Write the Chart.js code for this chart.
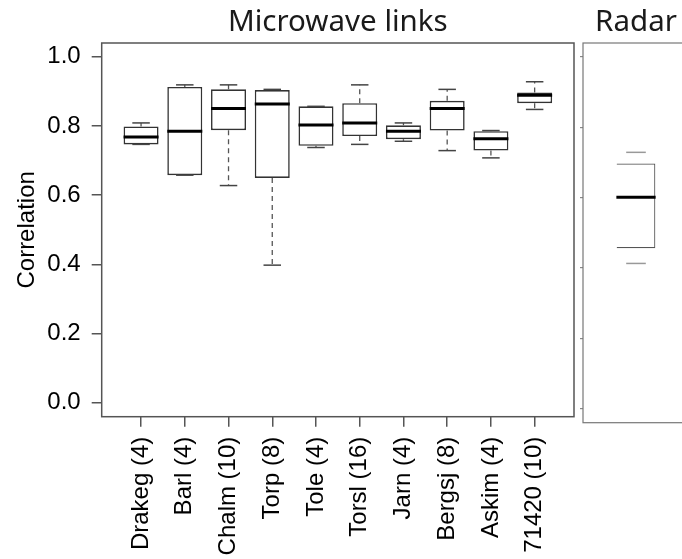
<!DOCTYPE html>
<html lang="en">
<head>
    <meta charset="UTF-8">
    <title>Correlation - Microwave links and Radar</title>
    <script src="https://cdn.jsdelivr.net/npm/chart.js"></script>
    <style>
        body { margin: 0; width: 682px; height: 559px; overflow: hidden; position: relative; background: #fff; }
        .panel { position: absolute; top: 0; }
    </style>
</head>
<body>
    <div class="panel" style="left:0; width:578px; height:559px;"><canvas id="mwChart" width="578" height="559"></canvas></div>
    <div class="panel" style="left:578px; width:115px; height:559px;"><canvas id="radarChart" width="115" height="559"></canvas></div>

    <script>
        // Microwave links, one box per site (number of links in brackets)
        const sites = ['Drakeg (4)', 'Barl (4)', 'Chalm (10)', 'Torp (8)', 'Tole (4)', 'Torsl (16)', 'Jarn (4)', 'Bergsj (8)', 'Askim (4)', '71420 (10)'];
        const mwLow    = [0.747, 0.658, 0.628, 0.398, 0.738, 0.747, 0.756, 0.729, 0.708, 0.848];
        const mwQ1     = [0.747, 0.658, 0.788, 0.650, 0.743, 0.771, 0.762, 0.787, 0.729, 0.866];
        const mwMedian = [0.768, 0.785, 0.851, 0.864, 0.803, 0.809, 0.785, 0.851, 0.763, 0.889];
        const mwQ3     = [0.799, 0.913, 0.906, 0.904, 0.857, 0.866, 0.802, 0.873, 0.785, 0.897];
        const mwHigh   = [0.809, 0.919, 0.919, 0.906, 0.857, 0.919, 0.809, 0.906, 0.787, 0.928];

        // Radar, single box
        const radarLow    = [0.413];
        const radarQ1     = [0.456];
        const radarMedian = [0.601];
        const radarQ3     = [0.697];
        const radarHigh   = [0.729];

        const yTicks = [0, 0.2, 0.4, 0.6, 0.8, 1.0];

        const labelFont = { family: '"Liberation Sans", Arial, sans-serif', size: 24 };
        const titleFont = { family: '"Noto Sans", sans-serif', size: 29.5, weight: 'normal' };

        function line(ctx, x1, y1, x2, y2) {
            ctx.beginPath();
            ctx.moveTo(x1, y1);
            ctx.lineTo(x2, y2);
            ctx.stroke();
        }

        // whiskers, caps, medians and frame on top of the floating bars
        function boxExtras(id, low, median, q3, q1, high, style) {
            return {
                id: id,
                afterDatasetsDraw(chart) {
                    const { ctx, chartArea: a, scales: { x, y } } = chart;
                    ctx.save();
                    for (let i = 0; i < median.length; i++) {
                        const cx = x.getPixelForValue(i + 1);
                        const hw = x.getPixelForValue(i + 1 + style.half) - cx;
                        const hc = hw / 2;
                        if (style.whiskers) {
                            ctx.strokeStyle = '#555';
                            ctx.lineWidth = 1.3;
                            ctx.setLineDash([5, 4]);
                            if (high[i] > q3[i]) line(ctx, cx, y.getPixelForValue(q3[i]), cx, y.getPixelForValue(high[i]));
                            if (low[i] < q1[i]) line(ctx, cx, y.getPixelForValue(q1[i]), cx, y.getPixelForValue(low[i]));
                            ctx.setLineDash([]);
                        }
                        ctx.strokeStyle = style.capColor;
                        ctx.lineWidth = 1.5;
                        line(ctx, cx - hc, y.getPixelForValue(high[i]), cx + hc, y.getPixelForValue(high[i]));
                        line(ctx, cx - hc, y.getPixelForValue(low[i]), cx + hc, y.getPixelForValue(low[i]));
                        ctx.strokeStyle = '#000';
                        ctx.lineWidth = 3;
                        line(ctx, cx - hw, y.getPixelForValue(median[i]), cx + hw, y.getPixelForValue(median[i]));
                    }
                    ctx.strokeStyle = style.frameColor;
                    ctx.lineWidth = style.frameWidth;
                    ctx.strokeRect(a.left, a.top, a.width, a.height);
                    ctx.restore();
                }
            };
        }

        function initializeCharts() {
            // Microwave links panel
            new Chart(document.getElementById('mwChart'), {
                type: 'bar',
                data: {
                    datasets: [{
                        data: mwQ1.map((v, i) => ({ x: i + 1, y: [v, mwQ3[i]] })),
                        backgroundColor: '#fff',
                        borderColor: '#333',
                        borderWidth: 1.6,
                        borderSkipped: false,
                        barPercentage: 0.8,
                        categoryPercentage: 1
                    }]
                },
                options: {
                    responsive: false,
                    animation: false,
                    layout: { padding: { left: 0, right: 4, top: 0, bottom: 0 } },
                    plugins: {
                        legend: { display: false },
                        tooltip: { enabled: false },
                        title: {
                            display: true,
                            text: 'Microwave links',
                            fullSize: false,
                            color: '#1a1a1a',
                            font: titleFont,
                            padding: { top: 5, bottom: 2.6 }
                        }
                    },
                    scales: {
                        x: {
                            type: 'linear',
                            min: 0.1,
                            max: 10.9,
                            offset: false,
                            afterBuildTicks: s => { s.ticks = sites.map((n, i) => ({ value: i + 1 })); },
                            afterFit: s => { s.height = 142.3; s.paddingLeft = 0; s.paddingRight = 0; },
                            ticks: {
                                autoSkip: false,
                                minRotation: 90,
                                maxRotation: 90,
                                padding: 10,
                                color: '#000',
                                font: labelFont,
                                callback: v => sites[Math.round(v) - 1]
                            },
                            grid: { drawOnChartArea: false, offset: false, tickLength: 10, color: '#555', lineWidth: 1.5 },
                            border: { display: false }
                        },
                        y: {
                            min: -0.04,
                            max: 1.04,
                            afterBuildTicks: s => { s.ticks = yTicks.map(v => ({ value: v })); },
                            afterFit: s => { s.width = 101.7; },
                            ticks: {
                                padding: 11,
                                color: '#000',
                                font: labelFont,
                                callback: v => v.toFixed(1)
                            },
                            title: {
                                display: true,
                                text: 'Correlation',
                                color: '#000',
                                font: labelFont,
                                padding: { top: 13, bottom: 0 }
                            },
                            grid: { drawOnChartArea: false, tickLength: 10, color: '#555', lineWidth: 1.5 },
                            border: { display: false }
                        }
                    }
                },
                plugins: [boxExtras('mwExtras', mwLow, mwMedian, mwQ3, mwQ1, mwHigh,
                    { half: 0.4, whiskers: true, capColor: '#444', frameColor: '#555', frameWidth: 1.5 })]
            });

            // Radar panel (cut off at the right edge of the figure)
            new Chart(document.getElementById('radarChart'), {
                type: 'bar',
                data: {
                    datasets: [{
                        data: radarQ1.map((v, i) => ({ x: i + 1, y: [v, radarQ3[i]] })),
                        backgroundColor: '#fff',
                        borderColor: '#555',
                        borderWidth: 1.2,
                        borderSkipped: 'left',
                        barPercentage: 0.365,
                        categoryPercentage: 1
                    }]
                },
                options: {
                    responsive: false,
                    animation: false,
                    layout: { padding: { left: 0, right: 4, top: 0, bottom: 136.3 } },
                    plugins: {
                        legend: { display: false },
                        tooltip: { enabled: false },
                        title: {
                            display: true,
                            text: 'Radar',
                            fullSize: false,
                            color: '#1a1a1a',
                            font: titleFont,
                            padding: { top: 5, bottom: 2.6 }
                        }
                    },
                    scales: {
                        x: {
                            type: 'linear',
                            display: false,
                            min: 0.46,
                            max: 1.54,
                            offset: false,
                            afterBuildTicks: s => { s.ticks = [{ value: 1 }]; }
                        },
                        y: {
                            min: -0.04,
                            max: 1.04,
                            afterBuildTicks: s => { s.ticks = yTicks.map(v => ({ value: v })); },
                            afterFit: s => { s.width = 5; },
                            ticks: { display: false },
                            grid: { drawOnChartArea: false, tickLength: 3, color: '#888', lineWidth: 1.2 },
                            border: { display: false }
                        }
                    }
                },
                plugins: [boxExtras('radarExtras', radarLow, radarMedian, radarQ3, radarQ1, radarHigh,
                    { half: 0.2, whiskers: false, capColor: '#999', frameColor: '#777', frameWidth: 1.2 })]
            });
        }

        document.addEventListener('DOMContentLoaded', initializeCharts);
    </script>
</body>
</html>
